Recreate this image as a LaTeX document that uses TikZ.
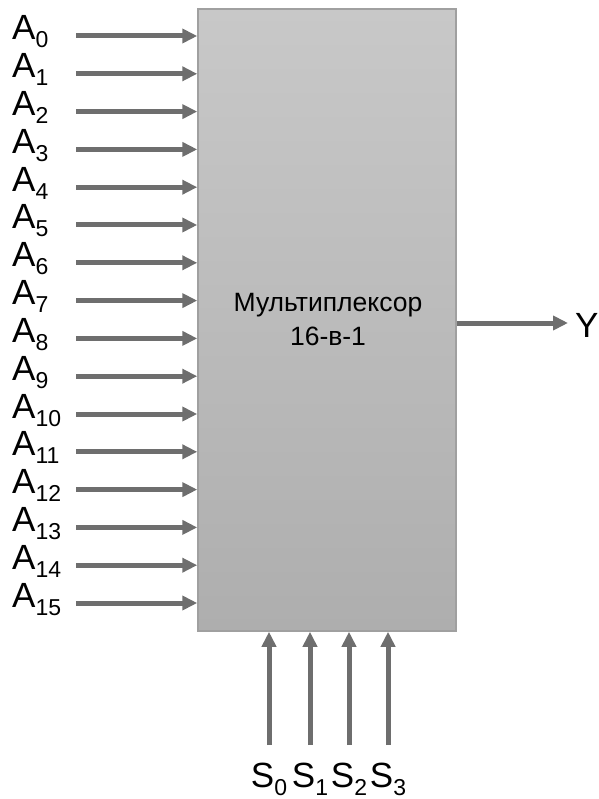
\documentclass[tikz,border=0pt]{standalone}
\usepackage{fontspec}
\setmainfont{Liberation Sans}
\usetikzlibrary{arrows.meta}

\definecolor{wireGray}{HTML}{6E6E6E}
\definecolor{boxEdge}{HTML}{A0A0A0}
\definecolor{boxTop}{HTML}{C8C8C8}
\definecolor{boxBottom}{HTML}{AEAEAE}

% index written below the baseline
\newcommand{\idx}[1]{\raisebox{-8pt}{\fontsize{23}{23}\selectfont #1}}

\begin{document}
\begin{tikzpicture}[x=1pt, y=-1pt]
  \tikzstyle{wire} = [line width=5pt, draw=wireGray, -{Triangle[length=15pt, width=14pt]}]
  \tikzstyle{pinName} = [inner sep=0pt, font=\fontsize{35}{35}\selectfont]
  \tikzstyle{muxBox} = [draw=boxEdge, line width=1.5pt, top color=boxTop, bottom color=boxBottom,
                        minimum width=258pt, minimum height=622pt, inner sep=0pt]

  \useasboundingbox (0,0) rectangle (598,799);

  % Multiplexer body
  \node[muxBox] (mux) at (327,320) {};
  \node[align=center, inner sep=0pt, font=\fontsize{26.5}{34}\selectfont] (title) at (328,320)
    {Мультиплексор\\16-в-1};

  % Data inputs
  \foreach \i in {0,...,15}
  {
    \pgfmathsetmacro{\y}{36 + 37.8*\i}
    \coordinate (in\i) at (76,\y);
    \node[pinName, anchor=base west] (A\i) at (12,\y+4) {A\idx{\i}};
    \draw[wire] (in\i) -- (mux.west |- in\i);
  }

  % Select inputs
  \foreach \x [count=\i from 0] in {269, 310, 349, 388}
  {
    \coordinate (sel\i) at (\x,745);
    \node[pinName, anchor=base] (S\i) at (\x,787) {S\idx{\i}};
    \draw[wire] (sel\i) -- (mux.south -| sel\i);
  }

  % Output
  \coordinate (out) at (568,323);
  \node[pinName, anchor=base west] (Y) at (575,337) {Y};
  \draw[wire] (mux.east |- out) -- (out);

\end{tikzpicture}
\end{document}
